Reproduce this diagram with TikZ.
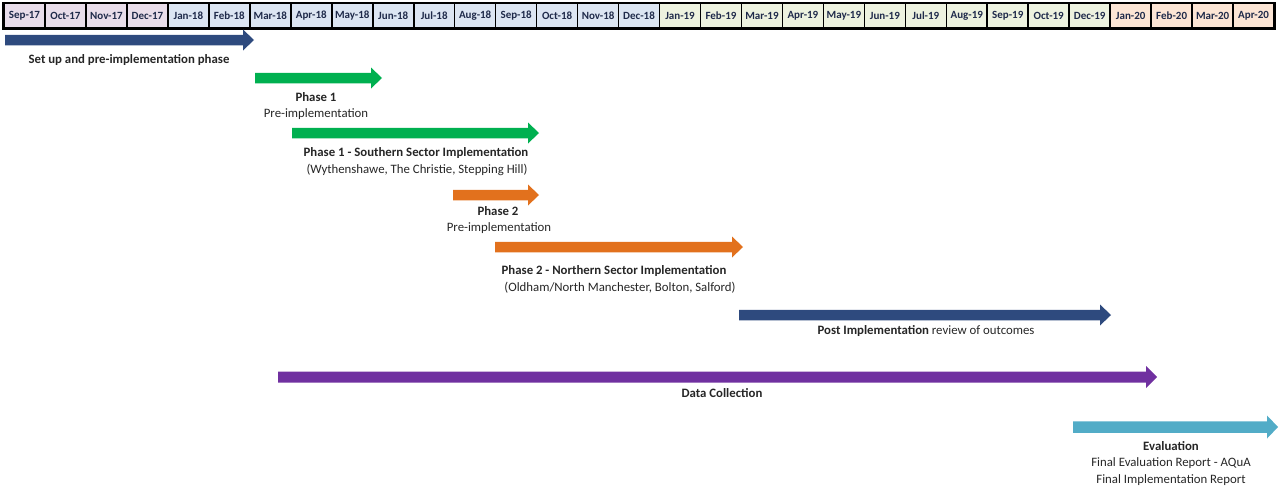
\documentclass[tikz,border=0pt]{standalone}
\usepackage{fontspec}
\setmainfont{Carlito}
\usetikzlibrary{calc}
\definecolor{cA}{HTML}{E9DDEA}
\definecolor{cB}{HTML}{DCE5F2}
\definecolor{cC}{HTML}{EDF2DF}
\definecolor{cD}{HTML}{FCE5D5}
\definecolor{navy}{HTML}{2E4A7E}
\definecolor{grn}{HTML}{00B050}
\definecolor{org}{HTML}{E2711D}
\definecolor{prp}{HTML}{7030A0}
\definecolor{teal}{HTML}{52ACC7}
\definecolor{hdrtxt}{HTML}{1F2A4A}
\definecolor{txt}{HTML}{262626}
\newcommand\blockarrow[4]{% start, end, colour, half shaft
\fill[#3] ($(#1)+(0,-#4)$) -- ($(#2)+(-11,-#4)$) -- ($(#2)+(-11,-2*#4)$) -- (#2) -- ($(#2)+(-11,2*#4)$) -- ($(#2)+(-11,#4)$) -- ($(#1)+(0,#4)$) -- cycle;}
\begin{document}
\begin{tikzpicture}[x=1pt,y=-1pt,
  cell/.style={draw=black, line width=1.6pt, minimum width=40.97pt, minimum height=24pt, inner sep=0pt, text=hdrtxt, font=\fontsize{11}{12}\selectfont\bfseries},
  lbl/.style={inner sep=0pt, text=txt, font=\fontsize{12.8}{14}\selectfont},
  blbl/.style={lbl, font=\fontsize{12.8}{14}\selectfont\bfseries}]
\useasboundingbox (0,0) rectangle (1281,490);
\foreach \m/\c [count=\i] in {Sep-17/cA,Oct-17/cA,Nov-17/cA,Dec-17/cA,Jan-18/cB,Feb-18/cB,Mar-18/cB,Apr-18/cB,May-18/cB,Jun-18/cB,Jul-18/cB,Aug-18/cB,Sep-18/cB,Oct-18/cB,Nov-18/cB,Dec-18/cB,Jan-19/cC,Feb-19/cC,Mar-19/cC,Apr-19/cC,May-19/cC,Jun-19/cC,Jul-19/cC,Aug-19/cC,Sep-19/cC,Oct-19/cC,Dec-19/cC,Jan-20/cD,Feb-20/cD,Mar-20/cD,Apr-20/cD}{
  \pgfmathsetmacro\xc{4+(\i-0.5)*40.97}
  \node[cell, fill=\c] (m\i) at (\xc,15.5) {\m};
}
\draw[line width=2.4pt] (m1.north west) rectangle (m31.south east);

% arrows
\coordinate (a1s) at (5,40);   \coordinate (a1e) at (254,40);
\coordinate (a2s) at (255,78); \coordinate (a2e) at (382,78);
\coordinate (a3s) at (292,133); \coordinate (a3e) at (539,133);
\coordinate (a4s) at (453,195); \coordinate (a4e) at (539,195);
\coordinate (a5s) at (495,247); \coordinate (a5e) at (743,247);
\coordinate (a6s) at (739,315); \coordinate (a6e) at (1111,315);
\coordinate (a7s) at (278,377); \coordinate (a7e) at (1157,377);
\coordinate (a8s) at (1073,427); \coordinate (a8e) at (1278,427);
\blockarrow{a1s}{a1e}{navy}{5.25}
\blockarrow{a2s}{a2e}{grn}{5.25}
\blockarrow{a3s}{a3e}{grn}{5.25}
\blockarrow{a4s}{a4e}{org}{5.25}
\blockarrow{a5s}{a5e}{org}{5.25}
\blockarrow{a6s}{a6e}{navy}{5.25}
\blockarrow{a7s}{a7e}{prp}{5.5}
\blockarrow{a8s}{a8e}{teal}{5.75}

% labels
\node[blbl] (l1) at (129,60) {Set up and pre-implementation phase};
\node[blbl] (l2) at (316,97) {Phase 1};
\node[lbl] (l2b) at (316,114) {Pre-implementation};
\node[blbl] (l3) at (416,153) {Phase 1 - Southern Sector Implementation};
\node[lbl] (l3b) at (417,170) {(Wythenshawe, The Christie, Stepping Hill)};
\node[blbl] (l4) at (498,211) {Phase 2};
\node[lbl] (l4b) at (499,228) {Pre-implementation};
\node[blbl] (l5) at (614,271) {Phase 2 - Northern Sector Implementation};
\node[lbl] (l5b) at (620,288) {(Oldham/North Manchester, Bolton, Salford)};
\node[lbl] (l6) at (926,331) {\textbf{Post Implementation} review of outcomes};
\node[blbl] (l7) at (722,393) {Data Collection};
\node[blbl] (l8) at (1171,446) {Evaluation};
\node[lbl] (l8b) at (1171,463) {Final Evaluation Report - AQuA};
\node[lbl] (l8c) at (1171,480) {Final Implementation Report};
\end{tikzpicture}
\end{document}
